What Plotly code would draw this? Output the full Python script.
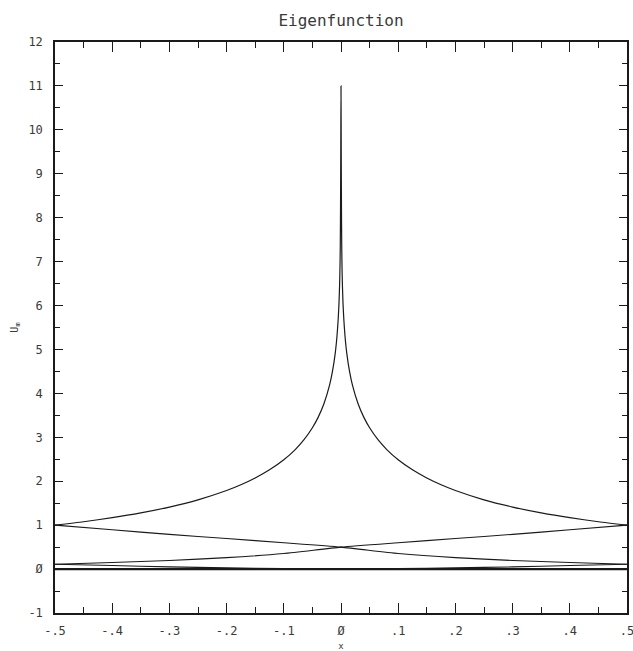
import plotly.graph_objects as go

# ---- data ----
x_peak = [-0.5, -0.45, -0.4, -0.35, -0.3, -0.25, -0.2, -0.175, -0.15, -0.125, -0.1,
          -0.08, -0.065, -0.05, -0.04, -0.03, -0.02, -0.015, -0.01, -0.007, -0.005,
          -0.0035, -0.0025, -0.0017, -0.0012, -0.0008, -0.0004, 0.0,
          0.0004, 0.0008, 0.0012, 0.0017, 0.0025, 0.0035, 0.005, 0.007, 0.01, 0.015,
          0.02, 0.03, 0.04, 0.05, 0.065, 0.08, 0.1, 0.125, 0.15, 0.175, 0.2, 0.25,
          0.3, 0.35, 0.4, 0.45, 0.5]
u_peak = [1.00, 1.078, 1.17, 1.279, 1.412, 1.576, 1.788, 1.919, 2.073, 2.259, 2.489,
          2.721, 2.939, 3.217, 3.454, 3.759, 4.189, 4.494, 4.924, 5.306, 5.669,
          6.061, 6.448, 6.93, 7.45, 8.26, 9.44, 11.0,
          9.44, 8.26, 7.45, 6.93, 6.448, 6.061, 5.669, 5.306, 4.924, 4.494,
          4.189, 3.759, 3.454, 3.217, 2.939, 2.721, 2.489, 2.259, 2.073, 1.919, 1.788, 1.576,
          1.412, 1.279, 1.17, 1.078, 1.00]

x_grid = [-0.5, -0.4, -0.3, -0.2, -0.1, 0.0, 0.1, 0.2, 0.3, 0.4, 0.5]
u_desc = [1.0, 0.895, 0.79, 0.695, 0.60, 0.50, 0.355, 0.26, 0.195, 0.15, 0.11]
u_asc = [0.11, 0.15, 0.195, 0.26, 0.355, 0.50, 0.60, 0.695, 0.79, 0.895, 1.0]
u_low_l = [0.11, 0.08, 0.05, 0.028, 0.012, 0.004, 0.001, 0.0, 0.0, 0.0, 0.0]
u_low_r = [0.0, 0.0, 0.0, 0.0, 0.001, 0.004, 0.012, 0.028, 0.05, 0.08, 0.11]
u_zero = [0.0, 0.0, 0.0, 0.0, 0.0, 0.0, 0.0, 0.0, 0.0, 0.0, 0.0]

x_ticks = [-0.5, -0.4, -0.3, -0.2, -0.1, 0.0, 0.1, 0.2, 0.3, 0.4, 0.5]
x_ticktext = ["-.5", "-.4", "-.3", "-.2", "-.1", "Ø", ".1", ".2", ".3", ".4", ".5"]
y_ticks = [-1, 0, 1, 2, 3, 4, 5, 6, 7, 8, 9, 10, 11, 12]
y_ticktext = ["-1", "Ø", "1", "2", "3", "4", "5", "6", "7", "8", "9", "10", "11", "12"]

LINE = "#1a1a1a"
TXT = "#3a3a3a"
FONT = "DejaVu Sans Mono"

fig = go.Figure()
fig.add_trace(go.Scatter(x=x_grid, y=u_zero, mode="lines",
                         line=dict(color=LINE, width=2.2)))
fig.add_trace(go.Scatter(x=x_grid, y=u_low_l, mode="lines",
                         line=dict(color=LINE, width=1.1, shape="spline", smoothing=0.8)))
fig.add_trace(go.Scatter(x=x_grid, y=u_low_r, mode="lines",
                         line=dict(color=LINE, width=1.1, shape="spline", smoothing=0.8)))
fig.add_trace(go.Scatter(x=x_grid, y=u_desc, mode="lines",
                         line=dict(color=LINE, width=1.1, shape="spline", smoothing=0.6)))
fig.add_trace(go.Scatter(x=x_grid, y=u_asc, mode="lines",
                         line=dict(color=LINE, width=1.1, shape="spline", smoothing=0.6)))
fig.add_trace(go.Scatter(x=x_peak, y=u_peak, mode="lines",
                         line=dict(color=LINE, width=1.2, shape="spline", smoothing=0.6)))

fig.update_layout(
    width=633, height=651,
    margin=dict(l=55, r=6, t=42, b=38, autoexpand=False),
    paper_bgcolor="white", plot_bgcolor="white",
    showlegend=False,
    font=dict(family=FONT, size=12, color=TXT),
    title=dict(text="Eigenfunction", x=(55 + 627) / 2 / 633, xanchor="center",
               y=1 - 20 / 651, yanchor="middle",
               font=dict(family=FONT, size=16, color=TXT)),
    xaxis=dict(
        range=[-0.5, 0.5], tickvals=x_ticks, ticktext=x_ticktext,
        ticks="inside", ticklen=10, tickwidth=1, tickcolor=LINE,
        showline=True, linecolor=LINE, linewidth=1.5, mirror="ticks",
        showgrid=False, zeroline=False, automargin=False,
        ticklabeloverflow="allow",
        minor=dict(dtick=0.05, ticks="inside", ticklen=6, tickwidth=1,
                   tickcolor=LINE, showgrid=False),
        ticklabelstandoff=6,
        tickfont=dict(family=FONT, size=12, color=TXT),
        title=dict(text="x", font=dict(family=FONT, size=9, color=TXT), standoff=6),
    ),
    yaxis=dict(
        range=[-1, 12], tickvals=y_ticks, ticktext=y_ticktext,
        ticks="inside", ticklen=8, tickwidth=1, tickcolor=LINE,
        showline=True, linecolor=LINE, linewidth=1.5, mirror="ticks",
        showgrid=False, zeroline=False, automargin=False,
        minor=dict(dtick=0.5, ticks="inside", ticklen=5, tickwidth=1,
                   tickcolor=LINE, showgrid=False),
        ticklabelstandoff=8,
        tickfont=dict(family=FONT, size=12, color=TXT),
        title=dict(text="U<sub>m</sub>", font=dict(family=FONT, size=10, color=TXT),
                   standoff=8),
    ),
)

fig.write_html("out.html")
